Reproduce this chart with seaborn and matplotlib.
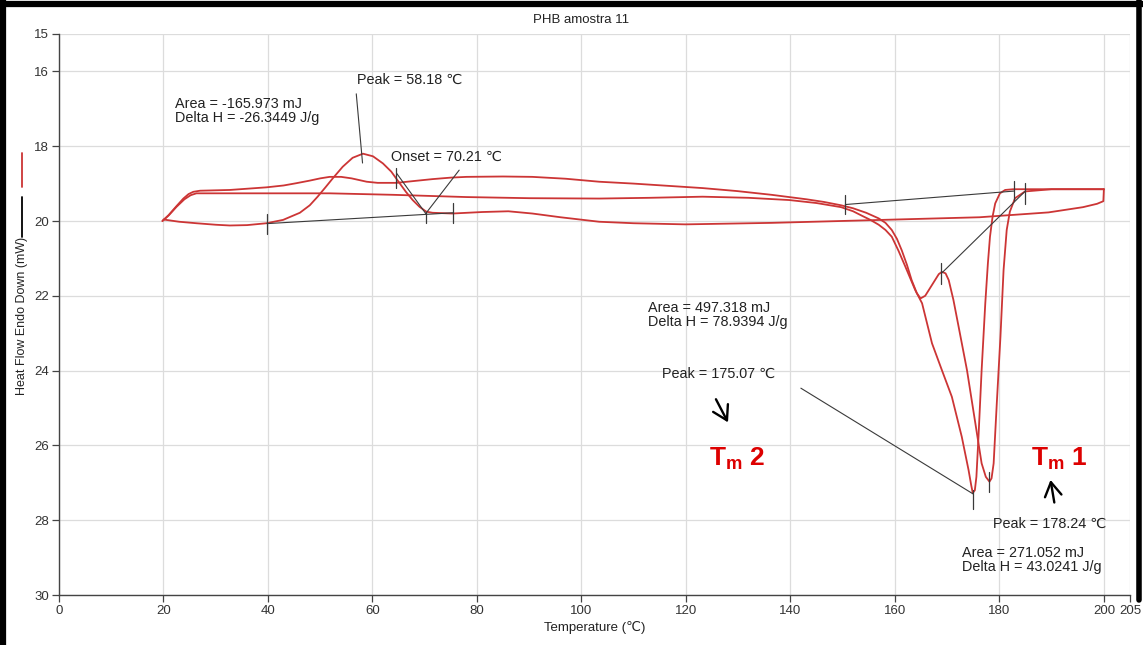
import matplotlib
matplotlib.use("Agg")
import matplotlib.pyplot as plt
from matplotlib.lines import Line2D
import seaborn as sns


# heating scan with the shoulder at 165 C and the Tm1 peak
heat1_temp = [19.8, 21, 22.5, 23.8, 24.8, 25.7, 27, 32.7, 39.7, 43, 45.4, 48, 50, 51.8, 54, 56,
              58.9, 61, 64.6, 68, 71.5, 75, 78, 85, 90.6, 97, 103.4, 110, 116.6, 123.2, 129.8,
              136.4, 143.1, 146.4, 149.7, 152, 154.5, 156.9, 158.2, 159.4, 160.4, 161.3, 162.3,
              163.2, 164.2, 164.9, 165.8, 167.1, 168.4, 169.0, 169.7, 170.3, 171.2, 172.2,
              173.8, 175.4, 176.6, 177.4, 178.1, 178.5, 178.9, 179.5, 180.2, 180.8, 181.4,
              182.0, 183.0, 184.9, 190, 200]
heat1_flow = [20.0, 19.84, 19.6, 19.4, 19.28, 19.22, 19.19, 19.17, 19.1, 19.05, 18.99, 18.92,
              18.86, 18.82, 18.82, 18.86, 18.95, 18.98, 18.98, 18.93, 18.88, 18.84, 18.82, 18.81,
              18.82, 18.87, 18.95, 19.0, 19.06, 19.12, 19.2, 19.3, 19.42, 19.49, 19.58, 19.66,
              19.78, 19.93, 20.05, 20.24, 20.48, 20.78, 21.17, 21.58, 21.93, 22.07, 22.0, 21.71,
              21.42, 21.36, 21.4, 21.58, 22.11, 22.83, 23.99, 25.41, 26.48, 26.84, 26.97, 26.88,
              26.48, 24.88, 23.1, 21.31, 20.24, 19.75, 19.39, 19.21, 19.15, 19.15]

# heating scan with the single Tm2 peak
heat2_temp = [19.8, 21, 22.5, 24, 25.2, 26.3, 30, 39, 51.8, 64, 78, 90, 103.4, 113, 123.2,
              132, 139.8, 145, 149.7, 152, 153.7, 155.3, 156.9, 158.2, 159.4, 160.7, 162, 163.9,
              165.2, 167.1, 169, 170.9, 172.8, 174.1, 174.6, 174.9, 175.3, 175.6, 176.0, 176.6,
              177.3, 177.8, 178.2, 178.7, 179.2, 180.1, 181.1, 182.7, 190, 200]
heat2_flow = [20.0, 19.85, 19.62, 19.42, 19.31, 19.26, 19.26, 19.26, 19.26, 19.3, 19.36, 19.39,
              19.4, 19.38, 19.35, 19.38, 19.44, 19.52, 19.63, 19.74, 19.86, 19.97, 20.1, 20.24,
              20.42, 20.8, 21.22, 21.85, 22.2, 23.27, 23.99, 24.7, 25.77, 26.66, 27.06, 27.27,
              27.2, 26.84, 25.77, 23.99, 22.2, 21.13, 20.42, 19.88, 19.53, 19.26, 19.17, 19.15,
              19.15, 19.15]

# cooling scan, 200 -> 20 C, crystallisation peak at 58 C
cool_temp = [200, 199.9, 198.7, 196, 189.4, 176.2, 162.9, 149.7, 136.4, 119.9, 110, 103.4, 96,
             90.6, 86, 81, 75.3, 71.5, 70.3, 69.0, 67.7, 66.4, 65.2, 63.6, 62, 60.1, 58.18,
             56.2, 54.3, 52.4, 51, 49.5, 48, 46.1, 42.9, 39.7, 36, 32.7, 30, 26.3, 23, 20]
cool_flow = [19.15, 19.47, 19.54, 19.63, 19.77, 19.9, 19.95, 20.0, 20.05, 20.09, 20.06, 20.02,
             19.9, 19.8, 19.74, 19.76, 19.8, 19.78, 19.75, 19.62, 19.44, 19.22, 18.99, 18.68,
             18.46, 18.27, 18.2, 18.31, 18.55, 18.86, 19.1, 19.35, 19.58, 19.78, 19.97, 20.06,
             20.11, 20.12, 20.1, 20.06, 20.02, 19.96]

# integration baselines / leader lines (x0, y0, x1, y1)
guide_lines = [
    (39.8, 20.07, 75.5, 19.78),      # cooling baseline
    (56.9, 16.6, 58.1, 18.45),       # peak 58.18 leader
    (64.6, 18.72, 70.2, 19.8),       # onset tangent
    (76.6, 18.64, 70.2, 19.8),       # onset leader
    (150.5, 19.56, 182.8, 19.2),     # 497 mJ baseline
    (168.9, 21.4, 184.9, 19.21),     # 271 mJ baseline
    (142.0, 24.47, 175.0, 27.3),     # peak 175.07 leader
]
# small vertical limit marks (x, y_top, y_bottom)
limit_marks = [(39.8, 19.8, 20.34), (75.5, 19.51, 20.05), (64.6, 18.58, 19.12),
               (70.2, 19.76, 20.05), (150.5, 19.3, 19.8), (182.8, 18.93, 19.44),
               (184.9, 18.98, 19.55), (168.9, 21.12, 21.68), (175.0, 27.2, 27.7),
               (178.1, 26.7, 27.25)]

x_ticks = [0, 20, 40, 60, 80, 100, 120, 140, 160, 180, 200, 205]
y_ticks = [15, 16, 18, 20, 22, 24, 26, 28, 30]

notes = [
    (22.2, 17.07, "Area = -165.973 mJ\nDelta H = -26.3449 J/g"),
    (57.1, 16.23, "Peak = 58.18 \u2103"),
    (63.6, 18.29, "Onset = 70.21 \u2103"),
    (112.7, 22.51, "Area = 497.318 mJ\nDelta H = 78.9394 J/g"),
    (115.4, 24.09, "Peak = 175.07 \u2103"),
    (178.7, 28.1, "Peak = 178.24 \u2103"),
    (172.9, 29.06, "Area = 271.052 mJ\nDelta H = 43.0241 J/g"),
]

sns.set_theme(style="white")
plt.rcParams['font.family'] = ['Liberation Sans', 'DejaVu Sans']
plt.rcParams['mathtext.fontset'] = 'custom'
plt.rcParams['mathtext.bf'] = 'Liberation Sans:bold'
plt.rcParams['mathtext.rm'] = 'Liberation Sans'

W, H = 1143, 645
fig = plt.figure(figsize=(W / 100, H / 100), dpi=100)
ax = fig.add_axes([59 / W, 1 - 595 / H, (1130 - 59) / W, (595 - 34) / H])

red = '#cc3535'
for t, f in [(cool_temp, cool_flow), (heat2_temp, heat2_flow), (heat1_temp, heat1_flow)]:
    sns.lineplot(x=t, y=f, sort=False, estimator=None, color=red, lw=1.3, ax=ax, zorder=3)

for x0, y0, x1, y1 in guide_lines:
    ax.plot([x0, x1], [y0, y1], color='#3a3a3a', lw=0.8, zorder=4)
for x, y0, y1 in limit_marks:
    ax.plot([x, x], [y0, y1], color='#3a3a3a', lw=0.9, zorder=4)

for x, y, s in notes:
    ax.text(x, y, s, fontsize=10.4, color='#222222', ha='left', va='center', linespacing=1.0)

# Tm labels and hand drawn arrows
for x, s in [(124.4, r"T$_{\mathbf{m}}$ 2"), (186.1, r"T$_{\mathbf{m}}$ 1")]:
    ax.text(x, 26.35, s, fontsize=19, fontweight='bold', color='#dd0000',
            ha='left', va='center')
arrow = dict(arrowstyle='->, head_length=0.5, head_width=0.3', lw=1.7, color='black',
             mutation_scale=20)
ax.annotate('', xy=(128.3, 25.45), xytext=(125.5, 24.7), arrowprops=arrow)
ax.annotate('', xy=(189.7, 26.85), xytext=(190.6, 27.6), arrowprops=arrow)

ax.set_xlim(0, 205)
ax.set_ylim(30, 15)
ax.set_xticks(x_ticks)
ax.set_yticks(y_ticks)
ax.grid(True, color='#dcdcdc', lw=0.9)
for side in ['top', 'right']:
    ax.spines[side].set_visible(False)
for side in ['left', 'bottom']:
    ax.spines[side].set_color('#444444')
    ax.spines[side].set_linewidth(1.0)
ax.tick_params(direction='out', length=5, width=0.9, color='#444444',
               labelsize=9.5, labelcolor='#333333', pad=2, left=True, bottom=True)
ax.set_xlabel("Temperature (\u2103)", fontsize=9.5, color='#222222', labelpad=3)
ax.set_title("PHB amostra 11", fontsize=9.5, color='#222222', x=0.487, pad=8)

# y label with the little series keys
fig.text(22 / W, 1 - 316 / H, "Heat Flow Endo Down (mW)", rotation=90, fontsize=9,
         color='#222222', ha='center', va='center')
fig.add_artist(Line2D([22 / W, 22 / W], [1 - 153 / H, 1 - 187 / H], color=red, lw=1.3))
fig.add_artist(Line2D([22 / W, 22 / W], [1 - 197 / H, 1 - 237 / H], color='black', lw=1.3))

# thick black frame of the screenshot
fig.add_artist(Line2D([3 / W, 3 / W], [0, 1], color='black', lw=4.5))
fig.add_artist(Line2D([0, 1], [1 - 3.5 / H, 1 - 3.5 / H], color='black', lw=4.5))
fig.add_artist(Line2D([1139 / W, 1139 / W], [1 - 600 / H, 1], color='black', lw=4))

fig.savefig("out.png", dpi=100)
